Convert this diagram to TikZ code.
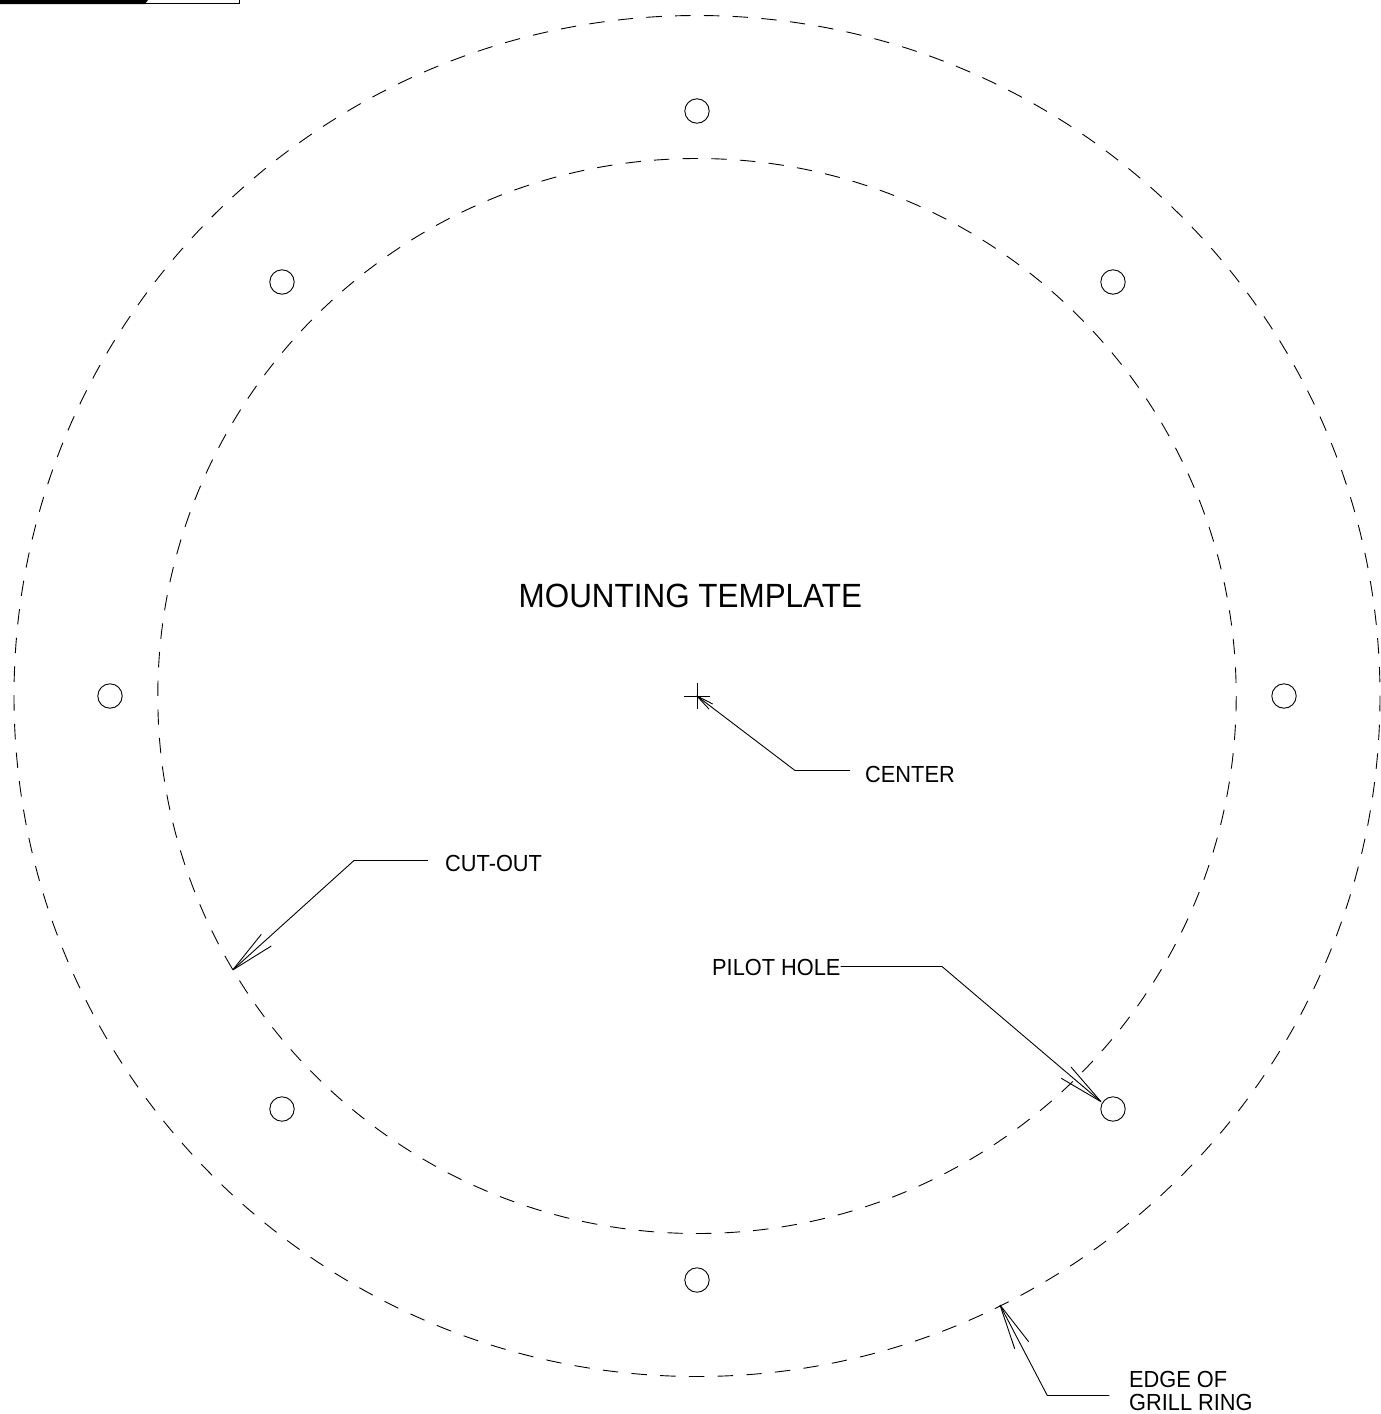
\documentclass[tikz,border=0pt]{standalone}
\usepackage{fontspec}
\setmainfont[FakeStretch=0.935]{Liberation Sans}
\tikzset{
  x=1pt,y=-1pt,
  ringouter/.style={draw,line width=0.9pt,dash pattern=on 15.4pt off 13.35pt},
  ringinner/.style={draw,line width=0.9pt,dash pattern=on 15.4pt off 13.27pt},
  hole/.style={draw,line width=0.9pt},
  lead/.style={draw,line width=0.9pt},
  lbl/.style={inner sep=0pt,font=\fontsize{23.3}{23.3}\selectfont,anchor=base west},
}
\begin{document}
\begin{tikzpicture}
\useasboundingbox (0,0) rectangle (1381,1414);
\coordinate (c) at (697,696);
% corner tab
\fill (0,0) -- (0,4) -- (145,4) -- (148,0) -- cycle;
\draw[line width=0.9pt] (145,3.5) -- (239,3.5) -- (239,0);
% rings
\draw[ringouter] (c) ellipse [x radius=683,y radius=680.5];
\draw[ringinner] (c) ellipse [x radius=539.2,y radius=537.5];
% holes
\foreach \n/\p in {a/{697,111},b/{1113,282},d/{1284,696},e/{1113,1109},f/{697,1280},g/{282,1109},h/{110,696},i/{282,282}}
  \draw[hole] (\p) circle [radius=12.2];
% centre mark
\draw[lead] (684,696.5) -- (709.5,696.5) (697,683) -- (697,708.5);
% labels
\node[lbl,font=\fontsize{33.6}{33.6}\selectfont] (title) at (518.5,607.3) {MOUNTING TEMPLATE};
\node[lbl] (center) at (865,782) {CENTER};
\node[lbl] (cut) at (445,871) {CUT-OUT};
\node[lbl] (pilot) at (712,975) {PILOT HOLE};
\node[lbl] (edge) at (1129,1387) {EDGE OF};
\node[lbl] (grill) at (1129,1410.5) {GRILL RING};
% leaders
\coordinate (tc) at (696.7,695.8);
\coordinate (tcut) at (232.7,970);
\coordinate (tp) at (1101,1101.7);
\coordinate (te) at (1000,1305);
\draw[lead] (850,770.5) -- (795,770.5) -- (tc);
\draw[lead] (tc) -- (712.7,704) (tc) -- (709,709);
\draw[lead] (428,860.5) -- (354,860.5) -- (tcut);
\draw[lead] (tcut) -- (261.3,934.3) (tcut) -- (271.3,946);
\draw[lead] (pilot.east |- 0,966.5) -- (942,966.5) -- (tp);
\draw[lead] (tp) -- (1061.3,1078.3) (tp) -- (1071,1067);
\draw[lead] (1109.3,1395.5) -- (1047.3,1395.5) -- (te);
\draw[lead] (te) -- (1014.7,1348.7) (te) -- (1028.7,1341.7);
\end{tikzpicture}
\end{document}
